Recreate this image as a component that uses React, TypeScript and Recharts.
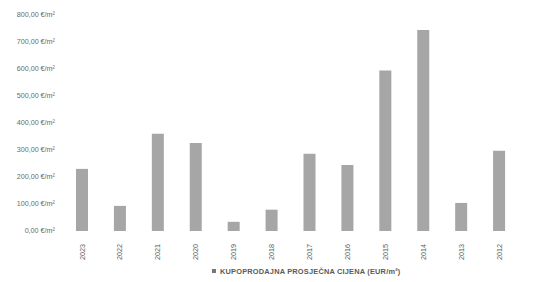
import { Bar, BarChart, Legend, XAxis, YAxis } from "recharts";

const years = ["2023", "2022", "2021", "2020", "2019", "2018", "2017", "2016", "2015", "2014", "2013", "2012"];
const prices = [230, 93, 360, 326, 34, 79, 286, 244, 594, 744, 104, 297];
const yTicks = [0, 100, 200, 300, 400, 500, 600, 700, 800];
const seriesName = "KUPOPRODAJNA PROSJEČNA CIJENA (EUR/m²)";

const data = years.map((year, i) => ({ year, price: prices[i] }));

const font = "Liberation Sans, Arial, sans-serif";
const fmt = (v: number) => v.toFixed(2).replace(".", ",") + " €/m²";

function YearTick({ x, y, payload }: any) {
  return (
    <text
      x={x}
      y={y}
      transform={`rotate(-90 ${x} ${y})`}
      dx={-5}
      dy={2.6}
      textAnchor="end"
      fontSize={7.2}
      fill="#5a5a5a"
      fontFamily={font}
    >
      {payload.value}
    </text>
  );
}

function PriceTick({ y, payload }: any) {
  return (
    <text x={55} y={y} dy={2.4} textAnchor="end" fontSize={7.2} fill="#6a6a6a" fontFamily={font}>
      {fmt(payload.value)}
    </text>
  );
}

function LegendBox({ payload }: any) {
  return (
    <div style={{ paddingLeft: 212, paddingTop: 5, fontFamily: font, fontSize: 7.4, fontWeight: 700, color: "#5a5a5a", letterSpacing: 0.2 }}>
      {(payload || []).map((p: any) => (
        <span key={p.value} style={{ display: "inline-flex", alignItems: "center" }}>
          <span style={{ width: 4, height: 4, background: "#777", marginRight: 4, display: "inline-block" }} />
          {p.value}
        </span>
      ))}
    </div>
  );
}

export default function App() {
  return (
    <div style={{ position: "absolute", left: 0, top: 0, background: "#fff" }}>
      <BarChart
        width={536}
        height={282}
        data={data}
        margin={{ top: 15, right: 18, bottom: 0, left: 0 }}
        barCategoryGap={0}
      >
        <XAxis dataKey="year" height={30} axisLine={false} tickLine={false} interval={0} tick={<YearTick />} />
        <YAxis width={63} domain={[0, 800]} ticks={yTicks} axisLine={false} tickLine={false} tick={<PriceTick />} />
        <Legend height={21} content={<LegendBox />} />
        <Bar dataKey="price" name={seriesName} fill="#a6a6a6" barSize={12} isAnimationActive={false} />
      </BarChart>
    </div>
  );
}
